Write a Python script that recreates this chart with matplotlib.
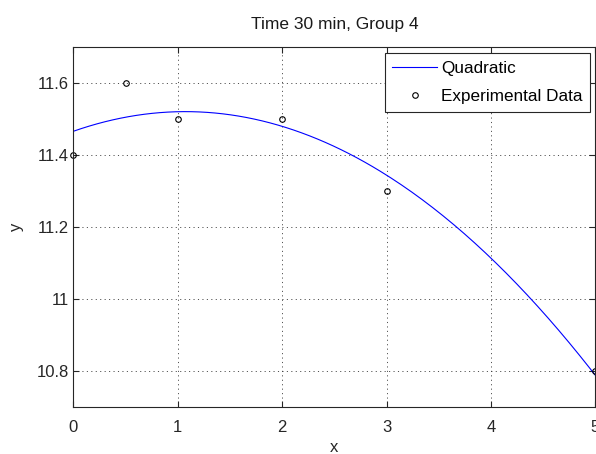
import numpy as np
import matplotlib.pyplot as plt

plt.rcParams['font.family'] = ['Liberation Sans', 'DejaVu Sans']
plt.rcParams['lines.scale_dashes'] = False

# measured points, group 4 at 30 min
x_data = [0, 0.5, 1, 2, 3, 5]
y_data = [11.4, 11.6, 11.5, 11.5, 11.3, 10.8]

# least squares quadratic through the measurements
coef = np.polyfit(x_data, y_data, 2)
x_fit = np.linspace(0, 5, 200)
y_fit = np.polyval(coef, x_fit)

fig = plt.figure(figsize=(5.96, 4.54), dpi=100)
ax = fig.add_axes([0.123, 0.1035, 0.876, 0.7935])

ax.plot(x_fit, y_fit, color='blue', lw=0.8, label='Quadratic')
ax.plot(x_data, y_data, 'o', mfc='none', mec='black', ms=4, mew=0.8,
        label='Experimental Data', clip_on=False)

ax.set_xlim(0, 5)
ax.set_ylim(10.7, 11.7)
ax.set_xticks([0, 1, 2, 3, 4, 5])
ax.set_yticks([10.8, 11, 11.2, 11.4, 11.6])
ax.set_yticklabels(['10.8', '11', '11.2', '11.4', '11.6'])
ax.grid(True, color='#333333', linestyle=(0, (0.8, 2.4)), linewidth=0.6)
ax.tick_params(direction='in', top=True, right=True, labelsize=12,
               length=4, width=0.8, colors='#262626')
ax.tick_params(axis='x', pad=9)
ax.tick_params(axis='y', pad=3)
for s in ax.spines.values():
    s.set_color('#262626')
    s.set_linewidth(0.8)

ax.set_title('Time 30 min, Group 4', fontsize=12.5, pad=13, color='#1a1a1a')
ax.set_xlabel('x', fontsize=12, labelpad=4, color='#262626')
ax.set_ylabel('y', fontsize=12, labelpad=9, color='#262626')

leg = ax.legend(loc='upper right', bbox_to_anchor=(0.99, 0.983), fontsize=12.3,
                fancybox=False, framealpha=1, edgecolor='#262626',
                handlelength=2.6, handletextpad=0.25, borderpad=0.45,
                labelspacing=0.8, borderaxespad=0)
leg.get_frame().set_linewidth(0.8)

fig.savefig('out.png', dpi=100)
